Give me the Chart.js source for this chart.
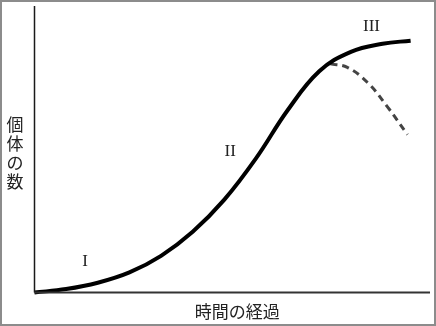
<!DOCTYPE html>
<html>
<head>
<meta charset="utf-8">
<script src="https://cdn.jsdelivr.net/npm/chart.js@4"></script>
<style>
    body { margin: 0; background: #fff; }
    #wrap { width: 436px; height: 326px; box-sizing: border-box; border: 2px solid #8c8c8c; background: #fff; }
</style>
</head>
<body>
<div id="wrap"><canvas id="grafico" width="432" height="322"></canvas></div>
<script>
// solid growth curve (time, number)
const tempo = [0, 8, 16, 24, 32, 40, 48, 56, 64, 72, 80, 88, 95.1]
const individuos = [0, 1.2, 3.4, 7.0, 12.8, 21.2, 32.4, 46.8, 63.6, 77.2, 84.0, 86.8, 87.9]

// dashed decline branch
const tempoQueda = [74.8, 79.1, 84.2, 89.2, 94.3]
const individuosQueda = [79.8, 78.6, 73.3, 64.9, 55.1]

// phase labels
const fases = ["I", "II", "III"]
const faseX = [12.8, 49.5, 85.2]
const faseY = [10.7, 49.2, 93]

const tituloX = "時間の経過"
const tituloY = "個体の数"

function pontos(xs, ys) {
    return xs.map((x, i) => ({ x: x, y: ys[i] }))
}

const textos = {
    id: "textos",
    afterDraw(chart) {
        const ctx = chart.ctx
        const a = chart.chartArea
        const sx = chart.scales.x
        const sy = chart.scales.y
        ctx.save()
        // axes
        ctx.strokeStyle = "#1a1a1a"
        ctx.lineWidth = 1.5
        ctx.beginPath()
        ctx.moveTo(a.left, a.top)
        ctx.lineTo(a.left, a.bottom)
        ctx.stroke()
        ctx.strokeStyle = "#333"
        ctx.lineWidth = 2
        ctx.beginPath()
        ctx.moveTo(a.left, a.bottom)
        ctx.lineTo(a.right, a.bottom)
        ctx.stroke()

        ctx.fillStyle = "#222"
        ctx.textAlign = "center"
        ctx.textBaseline = "middle"
        ctx.font = "17px 'Liberation Serif', serif"
        fases.forEach((f, i) => {
            ctx.fillText(f, sx.getPixelForValue(faseX[i]), sy.getPixelForValue(faseY[i]))
        })

        ctx.font = "17px 'Noto Sans CJK JP', sans-serif"
        ctx.fillText(tituloX, (a.left + a.right) / 2 + 5, a.bottom + 19)
        const chars = tituloY.split("")
        chars.forEach((c, i) => {
            ctx.fillText(c, 13, 123 + i * 19)
        })
        ctx.restore()
    }
}

new Chart(document.getElementById("grafico"), {
    type: "line",
    data: {
        datasets: [{
            data: pontos(tempo, individuos),
            borderColor: "#000",
            borderWidth: 4,
            pointRadius: 0,
            tension: 0.4,
            clip: false,
            fill: false
        }, {
            data: pontos(tempoQueda, individuosQueda),
            borderColor: "#444",
            borderWidth: 3,
            borderDash: [7, 5],
            pointRadius: 0,
            tension: 0.4,
            clip: false,
            fill: false
        }]
    },
    options: {
        responsive: false,
        animation: false,
        layout: {
            padding: { left: 32.5, top: 4, right: 4, bottom: 31.5 }
        },
        scales: {
            x: { type: "linear", min: 0, max: 100, display: false },
            y: { min: 0, max: 100, display: false }
        },
        plugins: {
            legend: { display: false },
            tooltip: { enabled: false }
        }
    },
    plugins: [textos]
})
</script>
</body>
</html>
